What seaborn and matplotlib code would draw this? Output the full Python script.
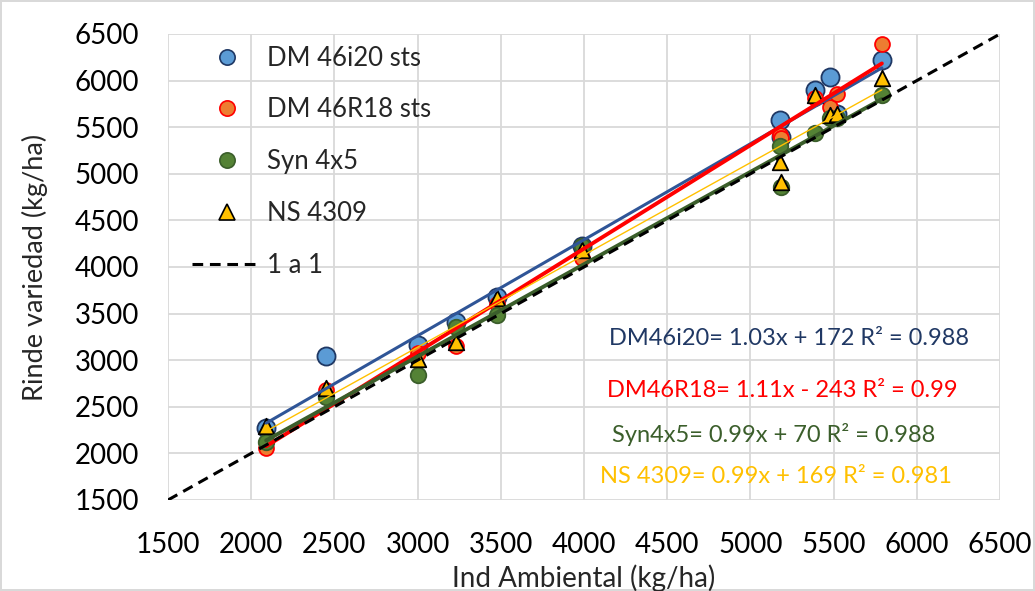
import pandas as pd
import matplotlib.pyplot as plt
import seaborn as sns
import numpy as np
from matplotlib.lines import Line2D

# ==========================================
# DATA
# ==========================================

ind_ambiental = [2090, 2450, 3000, 3230, 3480, 3990, 5180, 5185, 5390, 5480, 5520, 5790]

dm46i20 = [2270, 3050, 3160, 3410, 3680, 4220, 5580, 5390, 5900, 6040, 5640, 6220]
dm46r18 = [2060, 2680, 3080, 3150, 3600, 4100, 5420, 5380, 5810, 5715, 5860, 6390]
syn4x5 = [2120, 2600, 2840, 3360, 3490, 4220, 5300, 4860, 5440, 5600, 5600, 5845]
ns4309 = [2290, 2700, 3010, 3190, 3665, 4180, 5130, 4910, 5840, 5630, 5640, 6025]

series_names = ["DM 46i20 sts", "DM 46R18 sts", "Syn 4x5", "NS 4309"]
slopes = [1.03, 1.11, 0.99, 0.99]
intercepts = [172, -243, 70, 169]
eq_labels = [
    "DM46i20= 1.03x + 172 R² = 0.988",
    "DM46R18= 1.11x - 243 R² = 0.99",
    "Syn4x5= 0.99x + 70 R² = 0.988",
    "NS 4309= 0.99x + 169 R² = 0.981",
]
one_to_one = [1500, 6500]
ticks = [1500, 2000, 2500, 3000, 3500, 4000, 4500, 5000, 5500, 6000, 6500]

df = pd.DataFrame({
    "ind": ind_ambiental * 4,
    "rinde": dm46i20 + dm46r18 + syn4x5 + ns4309,
    "variedad": np.repeat(series_names, len(ind_ambiental)),
})

# ==========================================
# STYLE
# ==========================================

sns.set_theme(style="white")
plt.rcParams["font.family"] = ["Lato", "DejaVu Sans"]

fills = ["#5B9BD5", "#ED7D31", "#548235", "#FFC000"]
edges = ["#1F3864", "#FF0000", "#3B5E2B", "#000000"]
markers = ["o", "o", "o", "^"]
sizes = [170, 115, 125, 125]
line_colors = ["#2F5597", "#FF0000", "#3B5E2B", "#FFC000"]
line_widths = [2.2, 2.8, 2.8, 1.0]
text_colors = ["#203864", "#FF0000", "#3B5E2B", "#FFC000"]
text_pos = [(0.530, 0.3455), (0.5276, 0.2339), (0.5337, 0.1395), (0.519, 0.0494)]

fig = plt.figure(figsize=(10.35, 5.91), dpi=100)
fig.patch.set_edgecolor("#D9D9D9")
fig.patch.set_linewidth(1.5)
ax = fig.add_axes([0.1623, 0.154, 0.8039, 0.7885])

# ==========================================
# PLOT
# ==========================================

for i, name in enumerate(series_names):
    sub = df[df["variedad"] == name]
    sns.scatterplot(data=sub, x="ind", y="rinde", ax=ax, marker=markers[i],
                    s=sizes[i], color=fills[i], edgecolor=edges[i],
                    linewidth=1.3, zorder=3 + i * 0.1, legend=False)

# trend lines from the fitted equations
x_fit = np.array([min(ind_ambiental), max(ind_ambiental)])
for i in range(4):
    ax.plot(x_fit, slopes[i] * x_fit + intercepts[i], color=line_colors[i],
            lw=line_widths[i], zorder=5)

sns.lineplot(x=one_to_one, y=one_to_one, ax=ax, color="black", lw=2.2,
             linestyle=(0, (3.5, 2.2)), zorder=6)

for i in range(4):
    ax.text(text_pos[i][0], text_pos[i][1], eq_labels[i], color=text_colors[i],
            fontsize=17, ha="left", va="center", transform=ax.transAxes)

ax.set_xlim(1500, 6500)
ax.set_ylim(1500, 6500)
ax.set_xticks(ticks)
ax.set_yticks(ticks)
ax.tick_params(labelsize=20, length=0, colors="#000000")
ax.tick_params(axis="x", pad=23)
ax.tick_params(axis="y", pad=21)
ax.grid(True, color="#D9D9D9", lw=1.3)
for s in ax.spines.values():
    s.set_visible(False)
ax.set_xlabel("Ind Ambiental (kg/ha)", fontsize=20, labelpad=5)
ax.set_ylabel("Rinde variedad (kg/ha)", fontsize=19.5, labelpad=19)

handles = [Line2D([], [], marker=markers[i], ls="none", markersize=11,
                  markerfacecolor=fills[i], markeredgecolor=edges[i],
                  markeredgewidth=1.2) for i in range(4)]
handles.append(Line2D([], [], color="black", lw=2.2, linestyle=(0, (3.5, 2.2))))
ax.legend(handles, series_names + ["1 a 1"], loc="upper left",
          bbox_to_anchor=(0.029, 0.975), frameon=False, fontsize=18.5,
          borderpad=0, borderaxespad=0, handlelength=2.7, handletextpad=0.23,
          labelspacing=1.04)

plt.savefig("out.png", dpi=100)
